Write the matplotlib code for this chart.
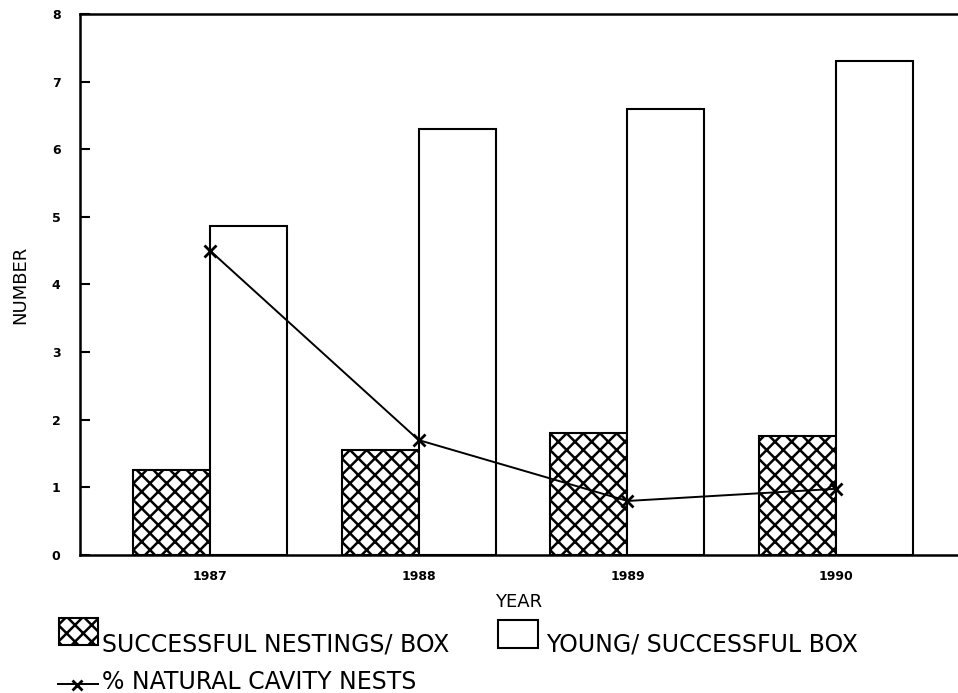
import numpy as np
import matplotlib.pyplot as plt
from matplotlib.patches import Rectangle
from matplotlib.lines import Line2D

# ── data ───────────────────────────────────────────────────────────────────────
years = ["1987", "1988", "1989", "1990"]
nestings_per_box = [1.26, 1.55, 1.80, 1.76]
young_per_box = [4.87, 6.30, 6.60, 7.30]
natural_cavity = [4.50, 1.70, 0.80, 0.98]

plt.rcParams["hatch.linewidth"] = 1.8
plt.rcParams["font.family"] = "DejaVu Sans"

fig = plt.figure(figsize=(9.58, 6.93), dpi=100)
ax = fig.add_axes([0.0835, 0.199, 0.9165, 0.781])

x = np.arange(len(years))
w = 0.369
ax.bar(x - w / 2, nestings_per_box, width=w, facecolor="white",
       edgecolor="black", hatch="xx", linewidth=1.5)
ax.bar(x + w / 2, young_per_box, width=w, facecolor="white",
       edgecolor="black", linewidth=1.5)
ax.plot(x, natural_cavity, color="black", linewidth=1.4, marker="x",
        markersize=9, markeredgewidth=2, zorder=5)

ax.set_xlim(-0.623, 3.584)
ax.set_ylim(0, 8)
ax.set_xticks(x)
ax.set_xticklabels(years, fontsize=9, fontweight="bold")
ax.tick_params(axis="x", length=0, pad=11)
ax.set_yticks(range(0, 9))
ax.tick_params(axis="y", direction="in", length=7, width=1.5, pad=14,
               labelsize=9)
for t in ax.get_yticklabels():
    t.set_fontweight("bold")

for s in ["left", "top", "bottom"]:
    ax.spines[s].set_linewidth(1.8)
ax.spines["right"].set_visible(False)

ax.set_xlabel("YEAR", fontsize=13, labelpad=7)
ax.set_ylabel("NUMBER", fontsize=13, labelpad=16)

# ── legend (hand-placed like the original) ─────────────────────────────────────
W, H = 958, 693
def fx(px):
    return px / W
def fy(py):
    return 1 - py / H

leg_font = dict(fontsize=17, va="baseline", ha="left")
fig.patches.append(Rectangle((fx(59), fy(645)), fx(39), 27 / H, transform=fig.transFigure,
                             facecolor="white", edgecolor="black", hatch="xx",
                             linewidth=1.5))
fig.text(fx(102), fy(651), "SUCCESSFUL NESTINGS/ BOX", **leg_font)
fig.patches.append(Rectangle((fx(498), fy(648)), fx(40), 28 / H, transform=fig.transFigure,
                             facecolor="white", edgecolor="black", linewidth=1.5))
fig.text(fx(546), fy(652), "YOUNG/ SUCCESSFUL BOX", **leg_font)
fig.lines.append(Line2D([fx(58), fx(98)], [fy(684), fy(684)], transform=fig.transFigure,
                        color="black", linewidth=1.4))
fig.lines.append(Line2D([fx(77)], [fy(685)], transform=fig.transFigure,
                        color="black", marker="x", markersize=7, markeredgewidth=2))
fig.text(fx(102), fy(689), "% NATURAL CAVITY NESTS", **leg_font)

fig.savefig("out.png", dpi=100)
